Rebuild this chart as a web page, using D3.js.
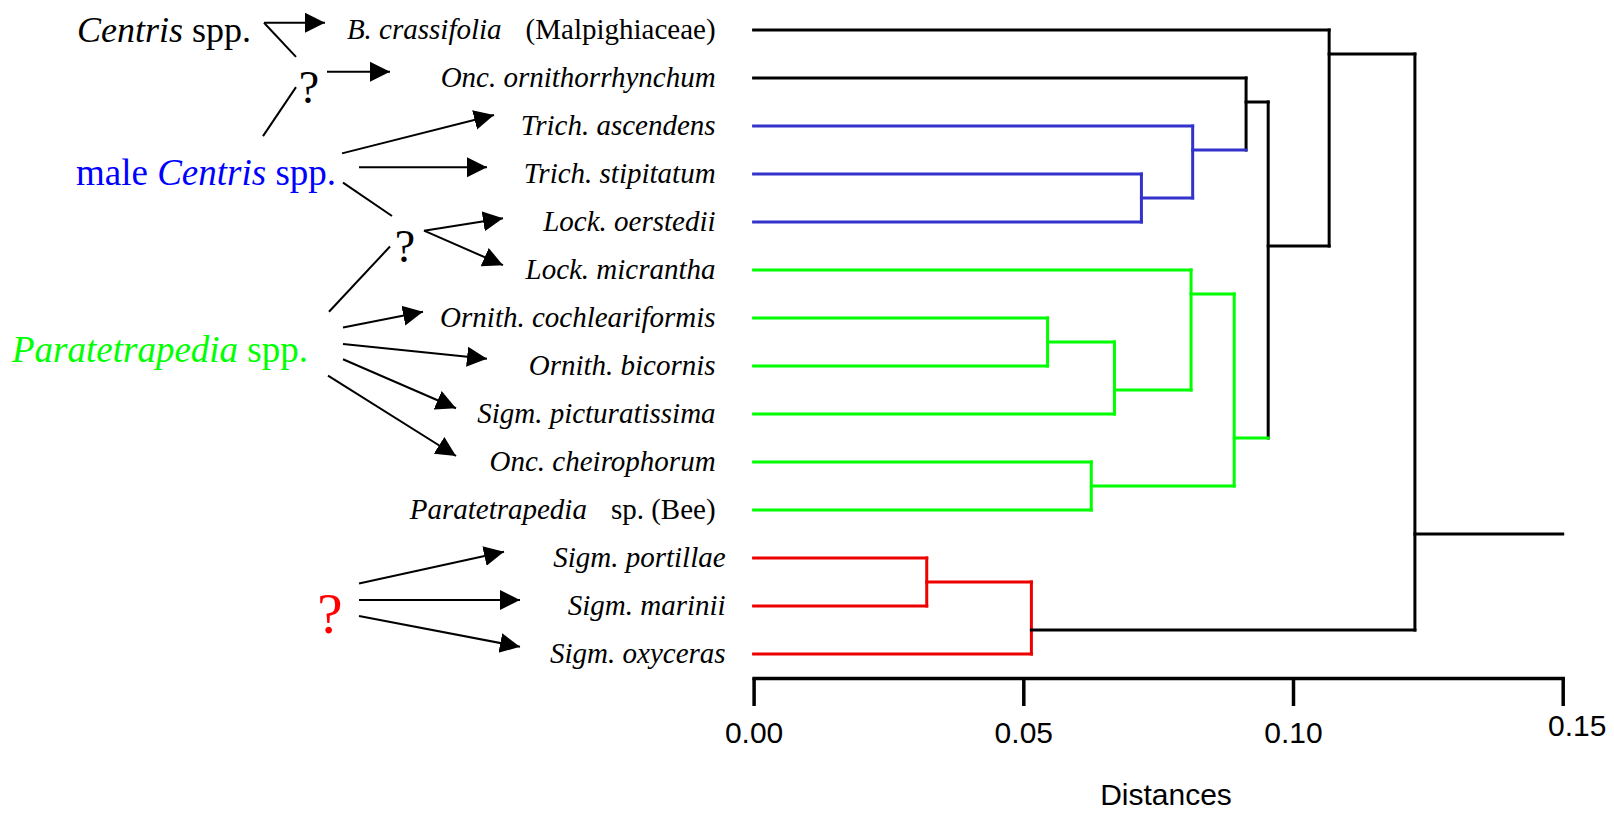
<!DOCTYPE html>
<html>
<head>
<meta charset="utf-8">
<script src="https://cdn.jsdelivr.net/npm/d3@7"></script>
<style>
  body { margin: 0; background: #fff; }
  svg { display: block; }
</style>
</head>
<body>
<div id="chart"></div>
<script>
// leaves, top to bottom
const leafNames = ["B. crassifolia", "Onc. ornithorrhynchum", "Trich. ascendens", "Trich. stipitatum",
    "Lock. oerstedii", "Lock. micrantha", "Ornith. cochleariformis", "Ornith. bicornis",
    "Sigm. picturatissima", "Onc. cheirophorum", "Paratetrapedia", "Sigm. portillae",
    "Sigm. marinii", "Sigm. oxyceras"];
const leafSuffix = ["(Malpighiaceae)", "", "", "", "", "", "", "", "", "", "sp. (Bee)", "", "", ""];
const leafGroup = ["none", "none", "male", "male", "male", "para", "para", "para", "para", "para", "para", "unk", "unk", "unk"];

// joins: leaves are ids 0..13, each join gets the next id (14, 15, ...)
const joinPairs = [[11, 12], [14, 13], [3, 4], [2, 16], [1, 17], [6, 7], [19, 8], [5, 20], [9, 10], [21, 22], [18, 23], [0, 24], [25, 15]];
const joinHeight = [0.0321, 0.0515, 0.0719, 0.0814, 0.0913, 0.0545, 0.0669, 0.0811, 0.0626, 0.0891, 0.0954, 0.1067, 0.1226];
const joinRow = [11.5, 12.5, 3.5, 2.5, 1.5, 6.5, 7.5, 5.5, 9.5, 8.5, 4.5, 0.5, 10.5];
const joinGroup = ["unk", "unk", "male", "male", "none", "para", "para", "para", "para", "para", "none", "none", "none"];
const stemGroup = ["unk", "none", "male", "male", "none", "para", "para", "para", "para", "para", "none", "none", "none"];
const rootEnd = 0.15;

const distTicks = [0, 0.05, 0.10, 0.15];
const axisTitle = "Distances";

const lineColor = {none: "#000", male: "#3333cc", para: "#00ff00", unk: "#ee0000"};
const textColor = {none: "#000", male: "#0000ff", para: "#00ff00", unk: "#ff0000"};

// pollinator notes on the left, rows in leaf units
const notes = [
    {parts: [["Centris", 1], [" spp.", 0]], group: "none", x: 77, row: 0.24, size: 36},
    {parts: [["male ", 0], ["Centris", 1], [" spp.", 0]], group: "male", x: 76, row: 3.23, size: 37},
    {parts: [["Paratetrapedia", 1], [" spp.", 0]], group: "para", x: 12, row: 6.91, size: 37},
    {parts: [["?", 0]], group: "none", x: 309, row: 1.53, size: 46, mid: true},
    {parts: [["?", 0]], group: "none", x: 405, row: 4.83, size: 46, mid: true},
    {parts: [["?", 0]], group: "unk", x: 330, row: 12.56, size: 57, mid: true}
];
const noteLines = [
    [264, -0.15, 296, 0.56, 0], [263, 2.21, 296, 1.19, 0], [343, 3.18, 392, 3.875, 0], [329, 5.87, 390, 4.51, 0],
    [264, -0.15, 325, -0.15, 1], [327, 0.87, 390, 0.87, 1],
    [342, 2.57, 494, 1.77, 1], [359, 2.86, 487, 2.86, 1],
    [424, 4.18, 503, 3.92, 1], [424, 4.18, 503, 4.9, 1],
    [343, 6.2, 423, 5.87, 1], [343, 6.54, 487, 6.85, 1], [343, 6.86, 456, 7.88, 1], [328, 7.2, 456, 8.875, 1],
    [359, 11.53, 504, 10.87, 1], [359, 11.875, 520, 11.875, 1], [359, 12.21, 520, 12.85, 1]
];

const width = 1614, height = 814;
const serif = "'Liberation Serif', 'Times New Roman', serif";
const sans = "'Liberation Sans', Arial, sans-serif";

let svg = d3.select("#chart").append("svg").attr("width", width).attr("height", height);

let x = d3.scaleLinear().domain([0, 0.15]).range([753.6, 1562.7]);
let y = d3.scaleLinear().domain([0, leafNames.length - 1]).range([30, 654]);

function buildNodes(){
    let nodes = leafNames.map((n, i) => ({id: i, h: 0, row: i, group: leafGroup[i], stem: leafGroup[i]}));
    joinPairs.forEach((p, k) => {
        nodes.push({id: leafNames.length + k, h: joinHeight[k], row: joinRow[k],
            group: joinGroup[k], stem: stemGroup[k], kids: p});
    });
    return nodes;
}

function drawTree(nodes){
    let g = svg.append("g").attr("fill", "none").attr("stroke-width", 3).attr("stroke-linecap", "square");
    let segs = [];
    nodes.filter(d => d.kids).forEach(d => {
        let a = nodes[d.kids[0]], b = nodes[d.kids[1]];
        segs.push({x1: d.h, y1: a.row, x2: d.h, y2: b.row, c: d.group});
        [a, b].forEach(k => segs.push({x1: k.h, y1: k.row, x2: d.h, y2: k.row, c: k.stem}));
    });
    let root = nodes[nodes.length - 1];
    segs.push({x1: root.h, y1: root.row, x2: rootEnd, y2: root.row, c: root.stem});

    g.selectAll("line").data(segs).join("line")
        .attr("x1", d => x(d.x1)).attr("y1", d => y(d.y1))
        .attr("x2", d => x(d.x2)).attr("y2", d => y(d.y2))
        .attr("stroke", d => lineColor[d.c]);
}

function drawLeafLabels(){
    let t = svg.append("g").attr("font-family", serif).attr("font-size", 29).attr("fill", "#000")
        .selectAll("text").data(leafNames).join("text")
        .attr("x", (d, i) => x(0) - 38 + (leafGroup[i] == "unk" ? 10 : 0))
        .attr("y", (d, i) => y(i) + 9)
        .attr("text-anchor", "end");
    t.append("tspan").attr("font-style", "italic").text(d => d);
    t.filter((d, i) => leafSuffix[i]).append("tspan").attr("dx", 24)
        .text(d => leafSuffix[leafNames.indexOf(d)]);
}

function drawAxis(){
    let axis = d3.axisBottom(x).tickValues(distTicks).tickFormat(d3.format(".2f"))
        .tickSizeInner(28).tickSizeOuter(0).tickPadding(16);
    let g = svg.append("g").attr("transform", "translate(0,678)").call(axis);
    g.selectAll("path, line").attr("stroke", "#000").attr("stroke-width", 3.5);
    g.selectAll("text").attr("font-family", sans).attr("font-size", 30).attr("fill", "#000");
    g.selectAll(".tick").filter(d => d == 0.15).select("text").attr("dx", 14).attr("y", 37);
    g.select(".domain").attr("stroke-linecap", "square");

    svg.append("text").attr("x", 1166).attr("y", 805).attr("text-anchor", "middle")
        .attr("font-family", sans).attr("font-size", 30).text(axisTitle);
}

function drawNotes(){
    svg.append("defs").append("marker").attr("id", "head")
        .attr("markerUnits", "userSpaceOnUse").attr("markerWidth", 22).attr("markerHeight", 22)
        .attr("viewBox", "0 -11 22 22").attr("refX", 20).attr("refY", 0).attr("orient", "auto")
        .append("path").attr("d", "M0,-10L20,0L0,10Z").attr("fill", "#000");

    svg.append("g").attr("stroke", "#000").attr("stroke-width", 2)
        .selectAll("line").data(noteLines).join("line")
        .attr("x1", d => d[0]).attr("y1", d => y(d[1]))
        .attr("x2", d => d[2]).attr("y2", d => y(d[3]))
        .attr("marker-end", d => d[4] ? "url(#head)" : null);

    let t = svg.append("g").attr("font-family", serif)
        .selectAll("text").data(notes).join("text")
        .attr("x", d => d.x).attr("y", d => y(d.row))
        .attr("font-size", d => d.size)
        .attr("text-anchor", d => d.mid ? "middle" : "start")
        .attr("fill", d => textColor[d.group]);
    t.selectAll("tspan").data(d => d.parts).join("tspan")
        .attr("font-style", p => p[1] ? "italic" : "normal")
        .text(p => p[0]);
}

let nodes = buildNodes();
drawTree(nodes);
drawLeafLabels();
drawAxis();
drawNotes();
</script>
</body>
</html>
